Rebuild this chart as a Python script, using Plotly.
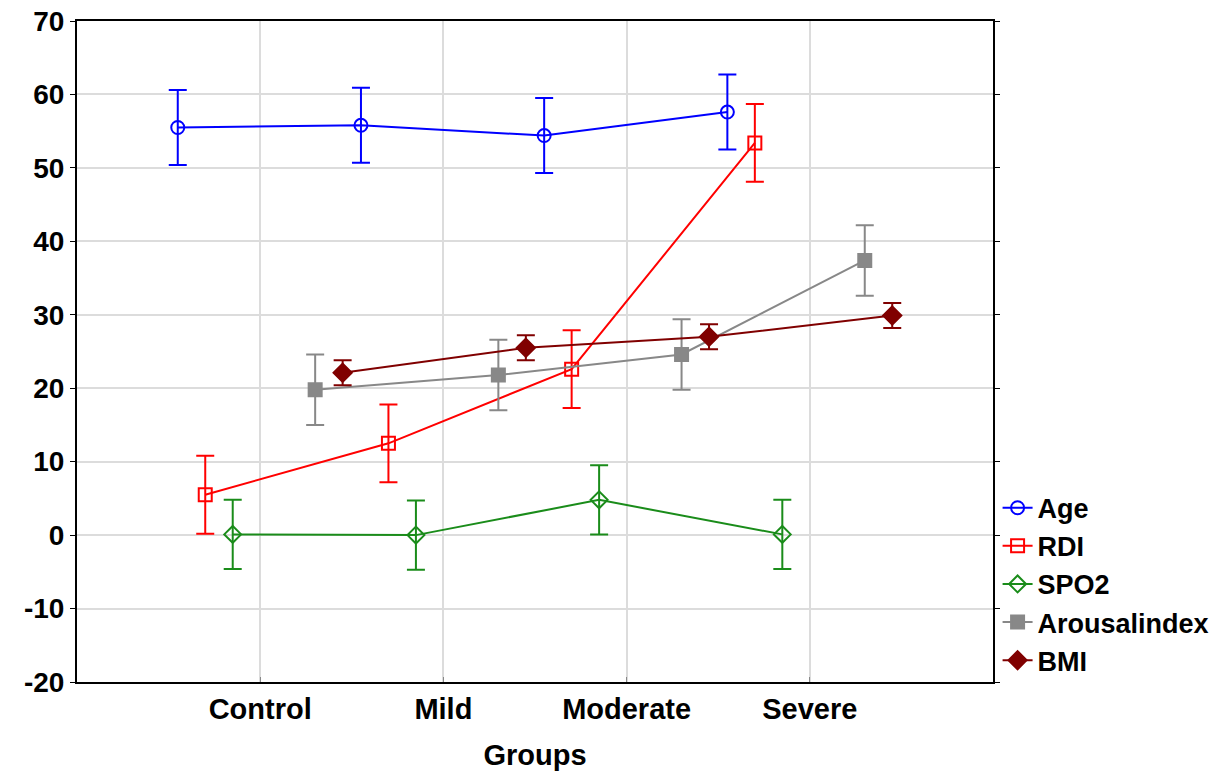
import plotly.graph_objects as go

groups = ["Control", "Mild", "Moderate", "Severe"]
series_names = ["Age", "RDI", "SPO2", "Arousalindex", "BMI"]
age = [55.5, 55.8, 54.4, 57.6]
rdi = [5.5, 12.5, 22.6, 53.4]
spo2 = [0.1, 0.0, 4.8, 0.1]
arousal = [19.8, 21.8, 24.6, 37.4]
bmi = [22.1, 25.5, 27.0, 29.9]
age_err = [5.1, 5.1, 5.1, 5.1]
rdi_err = [5.3, 5.3, 5.3, 5.3]
spo2_err = [4.7, 4.7, 4.7, 4.7]
arousal_err = [4.8, 4.8, 4.8, 4.8]
bmi_err = [1.7, 1.7, 1.7, 1.7]
y_ticks = [-20, -10, 0, 10, 20, 30, 40, 50, 60, 70]
y_tick_labels = ["-20", "-10", "0", "10", "20", "30", "40", "50", "60", "70"]

values = [age, rdi, spo2, arousal, bmi]
errors = [age_err, rdi_err, spo2_err, arousal_err, bmi_err]
offsets = [-0.45, -0.3, -0.15, 0.3, 0.45]
colors = ["#0000ff", "#ff0000", "#1a8c1a", "#888888", "#800000"]
symbols = ["circle-open", "square-open", "diamond-open", "square", "diamond"]
sizes = [13, 13, 13, 13, 14]

fig = go.Figure()
for name, vals, errs, off, col, sym, sz in zip(series_names, values, errors, offsets, colors, symbols, sizes):
    xs = [i + off for i in range(len(groups))]
    fig.add_trace(go.Scatter(
        x=xs, y=vals, name=name, mode="lines+markers",
        line=dict(color=col, width=2),
        marker=dict(symbol=sym, size=sz, color=col, line=dict(color=col, width=2)),
        error_y=dict(type="data", array=errs, visible=True, color=col, thickness=2, width=9),
    ))

font_family = "Liberation Sans, Arial, sans-serif"
fig.update_layout(
    width=1232, height=771,
    margin=dict(l=77, r=239, t=21, b=89, autoexpand=False),
    plot_bgcolor="white", paper_bgcolor="white",
    font=dict(family=font_family, size=28, color="black"),
    showlegend=True,
    legend=dict(x=1.005, y=0.30, xanchor="left", yanchor="top",
                font=dict(family=font_family, size=27, color="black", weight="bold"),
                tracegroupgap=0, itemwidth=30, borderwidth=0, bgcolor="rgba(0,0,0,0)"),
    xaxis=dict(
        range=[-1, 4], tickmode="array", tickvals=list(range(len(groups))), ticktext=groups,
        showgrid=True, gridcolor="#dcdcdc", gridwidth=2,
        showline=True, linecolor="black", linewidth=2, mirror=True,
        ticks="inside", ticklen=5, tickcolor="#888888",
        tickfont=dict(family=font_family, size=29, color="black", weight="bold"),
        title=dict(text="Groups", font=dict(family=font_family, size=29, color="black", weight="bold"), standoff=22),
        zeroline=False, automargin=False,
    ),
    yaxis=dict(
        range=[-20, 70], tickmode="array", tickvals=y_ticks, ticktext=y_tick_labels,
        showgrid=True, gridcolor="#dcdcdc", gridwidth=2,
        showline=True, linecolor="black", linewidth=2, mirror="ticks",
        ticks="outside", ticklen=5, tickcolor="black",
        tickfont=dict(family=font_family, size=28, color="black", weight="bold"),
        zeroline=False, automargin=False,
    ),
)

fig.write_html("out.html")
